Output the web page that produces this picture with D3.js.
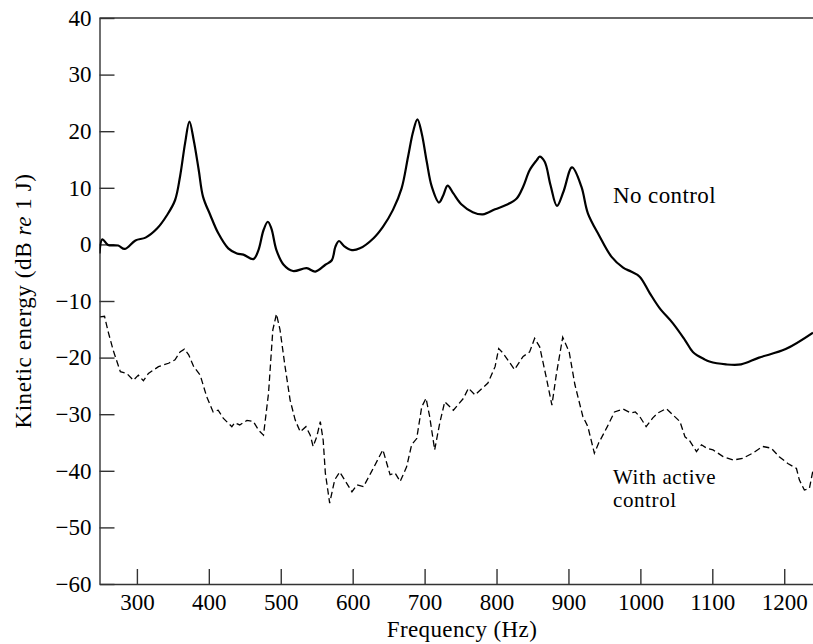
<!DOCTYPE html>
<html>
<head>
<meta charset="utf-8">
<script src="https://cdn.jsdelivr.net/npm/d3@7"></script>
<style>
  body { margin: 0; background: #fff; }
  svg { display: block; }
  text { font-family: "Liberation Serif", "Times New Roman", serif; fill: #000; }
</style>
</head>
<body>
<svg id="chart" width="813" height="644"></svg>
<script>
// frequency (Hz) / kinetic energy (dB re 1 J)
const freqNoControl = [248, 252, 260, 274, 283, 298, 312, 328, 342, 353, 360, 367, 373, 379, 386, 392,
    402, 413, 427, 439, 448, 462, 469, 476, 482, 487, 494, 504, 517, 536, 548, 562, 571, 576, 581, 588,
    599, 610, 629, 642, 656, 668, 677, 684, 690, 696, 703, 710, 720, 726, 732, 740, 751, 767, 781, 798,
    814, 828, 837, 846, 856, 860, 867, 875, 884, 893, 905, 918, 927, 943, 960, 976, 987, 999, 1013,
    1027, 1045, 1062, 1073, 1089, 1096, 1119, 1140, 1165, 1202, 1240];
const dbNoControl = [-1.6, 0.9, -0.1, -0.2, -0.8, 0.7, 1.2, 2.8, 5.2, 7.8, 12, 17.9, 21.7, 18.4, 13.1, 8.4,
    5.2, 2.0, -0.7, -1.6, -1.8, -2.6, -1.0, 2.5, 4.0, 2.8, -1.0, -3.6, -4.7, -4.2, -4.8, -3.6, -2.8, -0.4, 0.6, -0.3,
    -1.0, -0.7, 1.1, 3.1, 6.1, 9.9, 15.5, 19.9, 22.1, 19.6, 14.6, 10.2, 7.4, 8.7, 10.4, 9.0, 7.1, 5.7, 5.3, 6.2,
    7.0, 8.1, 10.2, 13.1, 14.9, 15.5, 14.6, 10.5, 6.8, 9.3, 13.6, 10.2, 5.5, 1.5, -2.2, -4.1, -4.8, -5.7, -8.6,
    -11.3, -13.9, -16.9, -19.0, -20.3, -20.7, -21.2, -21.2, -20.0, -18.5, -15.6];

const freqActive = [249, 255, 260, 267, 277, 286, 295, 302, 309, 316, 330, 344, 353, 360, 366, 372, 379,
    388, 397, 406, 413, 420, 432, 436, 443, 453, 462, 469, 476, 483, 489, 494, 499, 506, 513, 520, 527,
    535, 541, 545, 550, 555, 559, 562, 568, 575, 582, 599, 606, 615, 626, 642, 652, 659, 666, 675, 682,
    689, 696, 702, 707, 714, 721, 728, 740, 754, 761, 770, 788, 798, 803, 809, 825, 837, 846, 853, 860,
    869, 877, 883, 892, 901, 909, 920, 927, 936, 942, 954, 964, 976, 987, 993, 999, 1008, 1017, 1024,
    1036, 1045, 1055, 1062, 1068, 1078, 1085, 1092, 1101, 1115, 1129, 1142, 1156, 1170, 1182, 1193,
    1205, 1217, 1221, 1228, 1235, 1240];
const dbActive = [-12.8, -12.7, -15.4, -18.7, -22.5, -22.8, -24.0, -23.1, -24.1, -22.8, -21.6, -21.0, -20.4, -19.0, -18.5, -19.5, -21.6,
    -23.1, -26.9, -29.6, -29.3, -30.7, -32.2, -31.5, -31.9, -31.1, -31.3, -32.8, -33.7, -26.3, -15.1, -12.3, -15.1, -21.6, -27.5, -31.0, -33.1,
    -32.2, -33.7, -35.7, -34.0, -31.3, -34.6, -40.4, -45.7, -41.6, -40.2, -43.7, -42.5, -42.8, -40.2, -36.3, -40.7, -40.4, -41.9, -39.3, -35.4,
    -34.3, -28.7, -27.2, -30.4, -36.3, -31.6, -27.8, -29.3, -27.2, -25.4, -26.6, -24.5, -21.6, -18.4, -19.2, -22.1, -19.8, -19.0, -16.6, -18.1,
    -23.4, -28.4, -23.1, -16.4, -19.0, -24.8, -30.4, -32.2, -36.9, -35.1, -32.2, -29.6, -29.1, -29.8, -29.6, -30.4, -32.2, -30.7, -29.8,
    -29.0, -30.1, -31.3, -34.0, -34.6, -36.6, -35.4, -36.0, -36.3, -37.5, -38.1, -37.8, -36.9, -35.7, -36.0, -37.5,
    -38.7, -39.6, -41.6, -43.4, -43.1, -39.9];

const xTicks = [300, 400, 500, 600, 700, 800, 900, 1000, 1100, 1200];
const yTicks = [-60, -50, -40, -30, -20, -10, 0, 10, 20, 30, 40];

const svg = d3.select("#chart");
const margin = { left: 99.5, right: 813, top: 18, bottom: 584 };
const fontSize = "23px";

const x = d3.scaleLinear().domain([248, 1240]).range([margin.left, margin.right]);
const y = d3.scaleLinear().domain([-60, 40]).range([margin.bottom, margin.top]);

svg.append("clipPath").attr("id", "plot")
    .append("rect").attr("x", margin.left).attr("y", margin.top)
    .attr("width", margin.right - margin.left).attr("height", margin.bottom - margin.top);

// axes, ticks pointing inward
const xAxis = svg.append("g")
    .attr("transform", `translate(0,${margin.bottom})`)
    .call(d3.axisBottom(x).tickValues(xTicks).tickFormat(d3.format("d"))
        .tickSizeInner(-15).tickSizeOuter(0).tickPadding(10));
const yAxis = svg.append("g")
    .attr("transform", `translate(${margin.left},0)`)
    .call(d3.axisLeft(y).tickValues(yTicks).tickFormat(d3.format("d"))
        .tickSizeInner(-15).tickSizeOuter(0).tickPadding(8));

[xAxis, yAxis].forEach((a) => {
    a.selectAll("path, line").attr("stroke", "#333").attr("stroke-width", 1.4);
    a.selectAll("text").style("font-size", fontSize).attr("fill", "#000");
});

// top frame line
svg.append("line")
    .attr("x1", margin.left).attr("x2", margin.right)
    .attr("y1", margin.top).attr("y2", margin.top)
    .attr("stroke", "#333").attr("stroke-width", 1.4);

const line = d3.line()
    .x((d) => x(d[0]))
    .y((d) => y(d[1]));

const plot = svg.append("g").attr("clip-path", "url(#plot)");

plot.append("path")
    .datum(d3.zip(freqNoControl, dbNoControl))
    .attr("fill", "none")
    .attr("stroke", "#000")
    .attr("stroke-width", 2.2)
    .attr("stroke-linejoin", "round")
    .attr("d", line.curve(d3.curveCatmullRom.alpha(0.5)));

plot.append("path")
    .datum(d3.zip(freqActive, dbActive))
    .attr("fill", "none")
    .attr("stroke", "#000")
    .attr("stroke-width", 1.3)
    .attr("stroke-dasharray", "6.5,3.5")
    .attr("d", line.curve(d3.curveLinear));

// curve labels
svg.append("text").attr("x", 613).attr("y", 203)
    .style("font-size", fontSize).style("letter-spacing", "0.4px").text("No control");
const activeLabel = svg.append("text").attr("x", 613).attr("y", 484)
    .style("font-size", "21px").style("letter-spacing", "0.6px");
activeLabel.append("tspan").attr("x", 613).text("With active");
activeLabel.append("tspan").attr("x", 613).attr("dy", 23).text("control");

// axis titles
svg.append("text")
    .attr("x", 462).attr("y", 637)
    .attr("text-anchor", "middle")
    .style("font-size", fontSize).style("letter-spacing", "0.4px")
    .text("Frequency (Hz)");

const yTitle = svg.append("text")
    .attr("transform", `translate(31,${(margin.top + margin.bottom) / 2}) rotate(-90)`)
    .attr("text-anchor", "middle")
    .style("font-size", fontSize).style("letter-spacing", "0.6px");
yTitle.append("tspan").text("Kinetic energy (dB ");
yTitle.append("tspan").style("font-style", "italic").text("re");
yTitle.append("tspan").text(" 1 J)");
</script>
</body>
</html>
